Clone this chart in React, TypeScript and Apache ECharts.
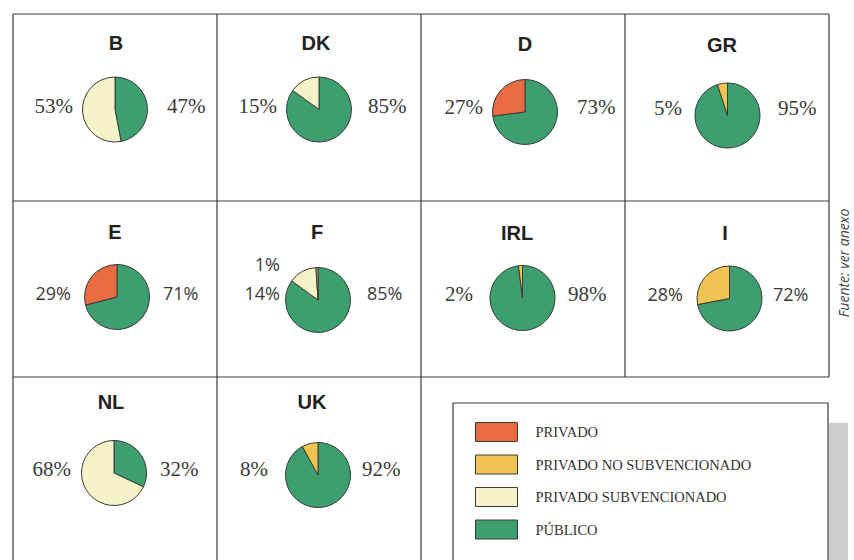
import React, { useEffect, useRef } from 'react';
import * as echarts from 'echarts';

// ---- data ----
const countries = ['B', 'DK', 'D', 'GR', 'E', 'F', 'IRL', 'I', 'NL', 'UK'];
const publico = [47, 85, 73, 95, 71, 85, 98, 72, 32, 92];
const privadoSubvencionado = [53, 15, 0, 0, 0, 14, 0, 0, 68, 0];
const privadoNoSubvencionado = [0, 0, 0, 5, 0, 1, 2, 28, 0, 8];
const privado = [0, 0, 27, 0, 29, 0, 0, 0, 0, 0];

const categoryNames = ['PRIVADO', 'PRIVADO NO SUBVENCIONADO', 'PRIVADO SUBVENCIONADO', 'PÚBLICO'];
const categoryColors = ['#e86b44', '#efc452', '#f7f3c9', '#3d9e6f'];
const sourceNote = 'Fuente: ver anexo';

// ---- layout (positions only) ----
const pieCenters = [
  [115, 109.5], [319, 109.5], [525, 112], [727.5, 115.5],
  [117, 297], [318, 300], [522.5, 298], [729.5, 298.5],
  [114, 473], [318, 475],
];
const titlePos = [
  [116, 43], [316, 43], [525, 44], [722, 45],
  [115, 232], [317, 232], [517, 233], [725, 233],
  [111, 402], [312, 402],
];
const leftLabelRight = [73, 277, 483, 682, 71, 280, 473, 683, 71, 268];
const rightLabelLeft = [167, 368, 577, 778, 163, 367, 568, 773, 160, 362];
const labelY = [106, 106, 107, 108, 293, 293, 294, 294, 469, 469];
const sansLabels = [false, false, false, false, true, true, false, true, false, false];

const serifFont = '"Liberation Serif", "Times New Roman", serif';
const sansFont = '"Open Sans", "Noto Sans", sans-serif';
const titleFont = '"Liberation Sans", Arial, sans-serif';

export default function App() {
  const ref = useRef<HTMLDivElement>(null);

  useEffect(() => {
    if (!ref.current) return;
    const chart = echarts.init(ref.current, null, { renderer: 'svg' });

    const colorOf = (name: string) => categoryColors[categoryNames.indexOf(name)];

    const series = countries.map((c, i) => {
      const items = [
        { name: 'PÚBLICO', value: publico[i] },
        { name: 'PRIVADO SUBVENCIONADO', value: privadoSubvencionado[i] },
        { name: 'PRIVADO NO SUBVENCIONADO', value: privadoNoSubvencionado[i] },
        { name: 'PRIVADO', value: privado[i] },
      ]
        .filter((d) => d.value > 0)
        .map((d) => ({ ...d, itemStyle: { color: colorOf(d.name) } }));
      return {
        type: 'pie',
        name: c,
        center: pieCenters[i],
        radius: 32.5,
        startAngle: 90,
        clockwise: true,
        silent: true,
        label: { show: false },
        labelLine: { show: false },
        emphasis: { disabled: true },
        itemStyle: { borderColor: '#3a3a3a', borderWidth: 1 },
        data: items,
      };
    });

    const lineStyle = { stroke: '#3a3a3a', lineWidth: 1.2 };
    const hLine = (y: number, x1: number, x2: number) => ({
      type: 'line', shape: { x1, y1: y, x2, y2: y }, style: lineStyle, silent: true,
    });
    const vLine = (x: number, y1: number, y2: number) => ({
      type: 'line', shape: { x1: x, y1, x2: x, y2 }, style: lineStyle, silent: true,
    });

    const graphics: any[] = [
      hLine(14, 13, 829),
      hLine(201, 13, 829),
      hLine(377, 13, 829),
      vLine(13, 14, 560),
      vLine(217, 14, 560),
      vLine(421, 14, 560),
      vLine(625, 14, 377),
      vLine(829, 14, 377),
      // legend shadow + box
      { type: 'rect', shape: { x: 829, y: 423, width: 19, height: 140 }, style: { fill: '#cdcdcd' }, silent: true },
      { type: 'rect', shape: { x: 453, y: 403, width: 375, height: 170 }, style: { fill: '#fff', stroke: '#3a3a3a', lineWidth: 1.2 }, silent: true },
      {
        type: 'text', x: 843, y: 263, rotation: Math.PI / 2,
        style: {
          text: sourceNote, font: 'italic 14px "Open Sans", sans-serif', fill: '#444',
          textAlign: 'center', textVerticalAlign: 'middle',
        },
      },
    ];

    countries.forEach((c, i) => {
      graphics.push({
        type: 'text', x: titlePos[i][0], y: titlePos[i][1],
        style: {
          text: c, font: `bold 20px ${titleFont}`, fill: '#222',
          textAlign: 'center', textVerticalAlign: 'middle',
        },
      });
      const font = sansLabels[i] ? `18px ${sansFont}` : `21px ${serifFont}`;
      graphics.push({
        type: 'text', x: rightLabelLeft[i], y: labelY[i],
        style: { text: `${publico[i]}%`, font, fill: '#3a3a3a', textAlign: 'left', textVerticalAlign: 'middle' },
      });
      const others = [privadoSubvencionado[i], privadoNoSubvencionado[i], privado[i]]
        .filter((v) => v > 0)
        .sort((a, b) => b - a);
      others.forEach((v, k) => {
        graphics.push({
          type: 'text', x: leftLabelRight[i], y: labelY[i] - k * 29,
          style: { text: `${v}%`, font, fill: '#3a3a3a', textAlign: 'right', textVerticalAlign: 'middle' },
        });
      });
    });

    chart.setOption({
      animation: false,
      backgroundColor: '#ffffff',
      legend: {
        data: categoryNames,
        orient: 'vertical',
        left: 475,
        top: 422,
        padding: 0,
        itemWidth: 42,
        itemHeight: 19,
        itemGap: 12.5,
        icon: 'rect',
        selectedMode: false,
        z: 10,
        itemStyle: { borderColor: '#3a3a3a', borderWidth: 1 },
        textStyle: { fontFamily: serifFont, fontSize: 14.5, color: '#333', padding: [0, 0, 0, 13] },
      },
      series,
      graphic: { elements: graphics },
    });

    return () => chart.dispose();
  }, []);

  return (
    <div
      ref={ref}
      style={{ position: 'fixed', left: 0, top: 0, width: 854, height: 560 }}
    />
  );
}
